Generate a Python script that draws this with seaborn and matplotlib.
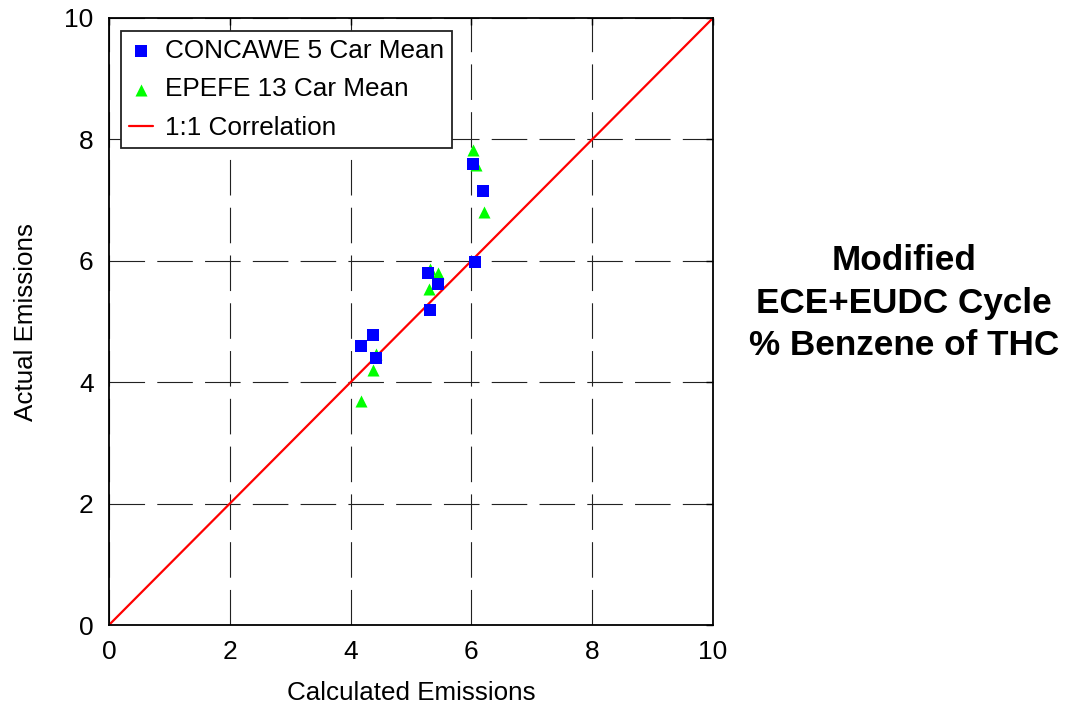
import matplotlib
matplotlib.use("Agg")
import matplotlib.pyplot as plt
import seaborn as sns
import pandas as pd

# Mean benzene share of THC: calculated vs. measured
concawe_calc = [4.17, 4.37, 4.42, 5.31, 5.28, 5.45, 6.06, 6.03, 6.19]
concawe_actual = [4.60, 4.78, 4.40, 5.19, 5.80, 5.62, 5.98, 7.59, 7.15]
epefe_calc = [4.17, 4.37, 4.42, 5.30, 5.31, 5.45, 6.03, 6.08, 6.21]
epefe_actual = [3.69, 4.20, 4.46, 5.54, 5.87, 5.80, 7.82, 7.57, 6.80]
corr_x = [0, 10]
corr_y = [0, 10]
ticks = [0, 2, 4, 6, 8, 10]

sns.set_style("white")
plt.rcParams["font.family"] = ["Liberation Sans", "DejaVu Sans"]
plt.rcParams["text.color"] = "black"
plt.rcParams["axes.labelcolor"] = "black"

fig = plt.figure(figsize=(10.65, 7.08), dpi=100)
ax = fig.add_axes([0.1023, 0.1172, 0.5672, 0.8574])

df_c = pd.DataFrame({"x": concawe_calc, "y": concawe_actual})
df_e = pd.DataFrame({"x": epefe_calc, "y": epefe_actual})
df_l = pd.DataFrame({"x": corr_x, "y": corr_y})

sns.lineplot(data=df_l, x="x", y="y", ax=ax, color="#ff0000",
             linewidth=1.6, zorder=2, label="1:1 Correlation")
sns.scatterplot(data=df_e, x="x", y="y", ax=ax, marker="^", color="#00ff00",
                s=75, linewidth=0, zorder=3, label="EPEFE 13 Car Mean")
sns.scatterplot(data=df_c, x="x", y="y", ax=ax, marker="s", color="#0000ff",
                s=75, linewidth=0, zorder=4, label="CONCAWE 5 Car Mean")

ax.set_xlim(0, 10)
ax.set_ylim(0, 10)
ax.set_xticks(ticks)
ax.set_yticks(ticks)
ax.set_xticklabels([str(t) for t in ticks])
ax.set_yticklabels([str(t) for t in ticks])
ax.tick_params(direction="in", length=5, width=1, labelsize=19, colors="black",
               top=True, right=True, pad=11)
ax.grid(True, color="#222222", linewidth=0.8, linestyle=(0, (32, 11)))
ax.set_axisbelow(True)
for sp in ax.spines.values():
    sp.set_color("black")
    sp.set_linewidth(1.3)

ax.set_xlabel("Calculated Emissions", fontsize=18.7, labelpad=12)
ax.set_ylabel("Actual Emissions", fontsize=18.7, labelpad=19)

handles, labels = ax.get_legend_handles_labels()
order = [labels.index(l) for l in ["CONCAWE 5 Car Mean", "EPEFE 13 Car Mean", "1:1 Correlation"]]
leg = ax.legend([handles[i] for i in order], [labels[i] for i in order],
                loc="upper left", bbox_to_anchor=(0.02, 0.979), fontsize=18.8,
                frameon=True, fancybox=False, framealpha=1, edgecolor="#222222",
                markerscale=1.0, handlelength=0.9, handletextpad=0.45,
                borderpad=0.32, labelspacing=0.55, borderaxespad=0)
leg.get_frame().set_linewidth(1.3)

fig.text(0.849, 0.5715, "Modified\nECE+EUDC Cycle\n% Benzene of THC",
         ha="center", va="center", fontsize=25.3, fontweight="bold",
         linespacing=1.37)

fig.savefig("out.png", dpi=100)
